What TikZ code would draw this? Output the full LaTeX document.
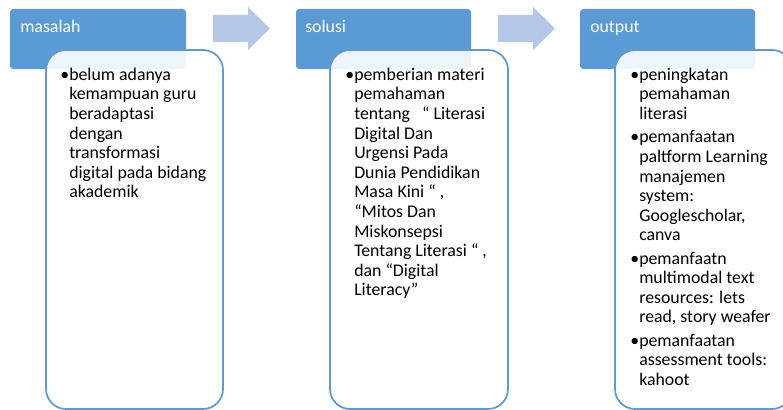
\documentclass[tikz,border=0pt]{standalone}
\usepackage{fontspec}
\setmainfont{Carlito}
\definecolor{hdr}{RGB}{91,155,213}
\definecolor{arw}{RGB}{180,199,231}
\begin{document}
\begin{tikzpicture}[x=0.75pt,y=-0.75pt,
  hdrbox/.style={fill=hdr, rounded corners=2.5pt},
  panelbox/.style={draw=hdr, line width=1.3pt, fill=white, fill opacity=0.9, rounded corners=15pt},
  blockarrow/.style={fill=arw},
  hdrtext/.style={anchor=base west, inner sep=0pt, text=white, font=\fontsize{13.35}{16}\selectfont},
  bodytext/.style={anchor=north west, inner sep=0pt, align=left, text=black, font=\fontsize{13.35}{14.7}\selectfont}]
\useasboundingbox (0,0) rectangle (783,410);
\clip (0,0) rectangle (783,410);

% header bars
\fill[hdrbox] (10,9) rectangle (186,69);
\fill[hdrbox] (296,9) rectangle (471,69);
\fill[hdrbox] (580,9) rectangle (755,69);

% block arrows between the headers
\fill[blockarrow] (213,15) -- (248,15) -- (248,7) -- (270,28.5) -- (248,50) -- (248,42) -- (213,42) -- cycle;
\fill[blockarrow] (498,15) -- (533,15) -- (533,7) -- (555,28.5) -- (533,50) -- (533,42) -- (498,42) -- cycle;

% content panels
\draw[panelbox] (46,50) rectangle (223,409);
\draw[panelbox] (330,50) rectangle (508,409);
\draw[panelbox] (615,50) rectangle (792,409);

% header labels
\node[hdrtext] (h1) at (20,33) {masalah};
\node[hdrtext] (h2) at (305,33) {solusi};
\node[hdrtext] (h3) at (590,33) {output};

% panel texts
\node[bodytext] (b1) at (69,66.3) {\strut\llap{•}belum adanya\\
kemampuan guru\\
beradaptasi\\
dengan\\
transformasi\\
digital pada bidang\\
akademik};

\node[bodytext] (b2) at (354,66.3) {\strut\llap{•}pemberian materi\\
pemahaman\\
tentang\ \ \ “ Literasi\\
Digital Dan\\
Urgensi Pada\\
Dunia Pendidikan\\
Masa Kini “ ,\\
“Mitos Dan\\
Miskonsepsi\\
Tentang Literasi “ ,\\
dan “Digital\\
Literacy”};

\node[bodytext] (b3) at (639,66.3) {\strut\llap{•}peningkatan\\
pemahaman\\
literasi\\[2.8pt]
\llap{•}pemanfaatan\\
paltform Learning\\
manajemen\\
system:\\
Googlescholar,\\
canva\\[2.8pt]
\llap{•}pemanfaatn\\
multimodal text\\
resources: lets\\
read, story weafer\\[2.8pt]
\llap{•}pemanfaatan\\
assessment tools:\\
kahoot};
\end{tikzpicture}
\end{document}
